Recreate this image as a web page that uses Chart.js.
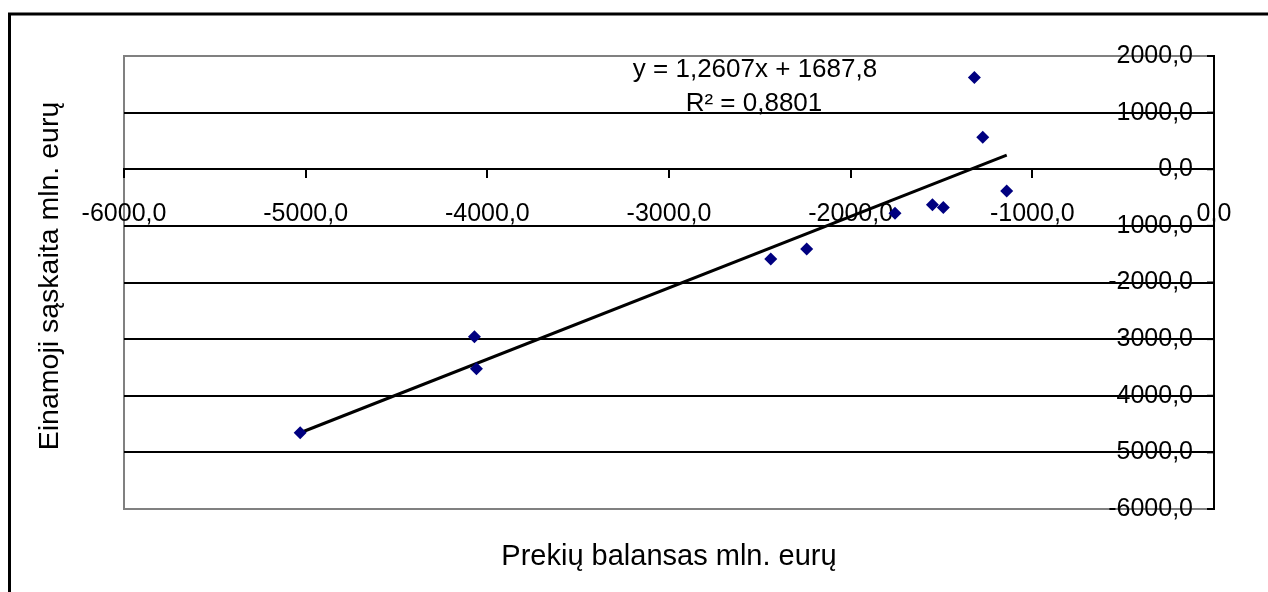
<!DOCTYPE html>
<html>
<head>
<meta charset="utf-8">
<script src="https://cdn.jsdelivr.net/npm/chart.js@4/dist/chart.umd.min.js"></script>
<style>
    html, body { margin: 0; padding: 0; background: #ffffff; }
    #wrap { width: 1268px; height: 592px; position: relative; }
</style>
</head>
<body>
<div id="wrap"><canvas id="chart"></canvas></div>
<script>
// Prekių balansas (x) ir einamoji sąskaita (y), mln. eurų
const balanceX = [-1319, -1273, -1141, -1756, -1550, -1490, -2440, -2242, -4071, -4060, -5030];
const accountY = [1621, 564, -382, -775, -629, -676, -1586, -1410, -2960, -3524, -4652];

// trend line from the chart label
const TREND_SLOPE = 1.2607;
const TREND_INTERCEPT = 1687.8;
const TREND_LABEL = 'y = 1,2607x + 1687,8';
const R2_LABEL = 'R² = 0,8801';

const X_TITLE = 'Prekių balansas mln. eurų';
const Y_TITLE = 'Einamoji sąskaita mln. eurų';

const FONT = "'Liberation Sans', Arial, sans-serif";
const TICK_SIZE = 25;

function formatTick(value) {
    return value.toFixed(1).replace('.', ',');
}

const points = balanceX.map((x, i) => ({x: x, y: accountY[i]}));
const xMin = Math.min(...balanceX);
const xMax = Math.max(...balanceX);
const trendPoints = [
    {x: xMin, y: TREND_SLOPE * xMin + TREND_INTERCEPT},
    {x: xMax, y: TREND_SLOPE * xMax + TREND_INTERCEPT}
];

const frameAndText = {
    id: 'frameAndText',
    beforeDraw(chart) {
        const ctx = chart.ctx;
        const a = chart.chartArea;
        ctx.save();
        ctx.strokeStyle = '#808080';
        ctx.lineWidth = 2;
        ctx.strokeRect(a.left, a.top, a.right - a.left, a.bottom - a.top);
        ctx.restore();
    },
    afterDraw(chart) {
        const ctx = chart.ctx;
        const yScale = chart.scales.y;
        ctx.save();
        // outer chart frame
        ctx.strokeStyle = '#000000';
        ctx.lineWidth = 3;
        ctx.strokeRect(9.5, 14, 1400, 700);

        // y tick marks (inside) and labels, right aligned left of the axis
        ctx.lineWidth = 2;
        ctx.fillStyle = '#000000';
        ctx.font = TICK_SIZE + 'px ' + FONT;
        ctx.textAlign = 'right';
        ctx.textBaseline = 'middle';
        yScale.ticks.forEach(tick => {
            let py = yScale.getPixelForValue(tick.value);
            ctx.beginPath();
            ctx.moveTo(yScale.left - 7, py);
            ctx.lineTo(yScale.left, py);
            ctx.stroke();
            ctx.fillText(formatTick(tick.value), yScale.left - 21, py);
        });

        ctx.textAlign = 'center';
        ctx.textBaseline = 'alphabetic';
        ctx.font = '26px ' + FONT;
        ctx.fillText(TREND_LABEL, 755, 77);
        ctx.fillText(R2_LABEL, 754, 111);

        ctx.font = '29px ' + FONT;
        ctx.fillText(X_TITLE, 669, 565);

        ctx.font = '28.5px ' + FONT;
        ctx.translate(58, 276);
        ctx.rotate(-Math.PI / 2);
        ctx.fillText(Y_TITLE, 0, 0);
        ctx.restore();
    }
};

new Chart(document.getElementById('chart'), {
    type: 'scatter',
    data: {
        datasets: [{
            label: 'Einamoji sąskaita',
            data: points,
            pointStyle: 'rectRot',
            pointRadius: 6.5,
            pointHoverRadius: 6.5,
            backgroundColor: '#000080',
            borderColor: '#000080',
            borderWidth: 0
        }, {
            type: 'line',
            label: 'Trend',
            data: trendPoints,
            borderColor: '#000000',
            borderWidth: 3,
            pointRadius: 0,
            fill: false
        }]
    },
    options: {
        responsive: true,
        maintainAspectRatio: false,
        animation: false,
        events: [],
        layout: {
            padding: {left: 124, top: 56, right: 54, bottom: 83}
        },
        plugins: {
            legend: {display: false},
            tooltip: {enabled: false}
        },
        scales: {
            x: {
                type: 'linear',
                min: -6000,
                max: 0,
                position: {y: 0},
                ticks: {
                    stepSize: 1000,
                    autoSkip: false,
                    maxRotation: 0,
                    padding: 22,
                    color: '#000000',
                    font: {family: FONT, size: TICK_SIZE},
                    callback: formatTick
                },
                grid: {
                    drawOnChartArea: false,
                    drawTicks: true,
                    tickLength: 8,
                    color: '#000000',
                    lineWidth: 2
                },
                border: {display: true, color: '#000000', width: 2}
            },
            y: {
                type: 'linear',
                min: -6000,
                max: 2000,
                position: 'right',
                ticks: {
                    stepSize: 1000,
                    display: false
                },
                grid: {
                    drawTicks: false,
                    color: ctx => (ctx.tick && (ctx.tick.value === 2000 || ctx.tick.value === -6000)) ? '#808080' : '#000000',
                    lineWidth: 2
                },
                border: {display: true, color: '#000000', width: 2}
            }
        }
    },
    plugins: [frameAndText]
});
</script>
</body>
</html>
